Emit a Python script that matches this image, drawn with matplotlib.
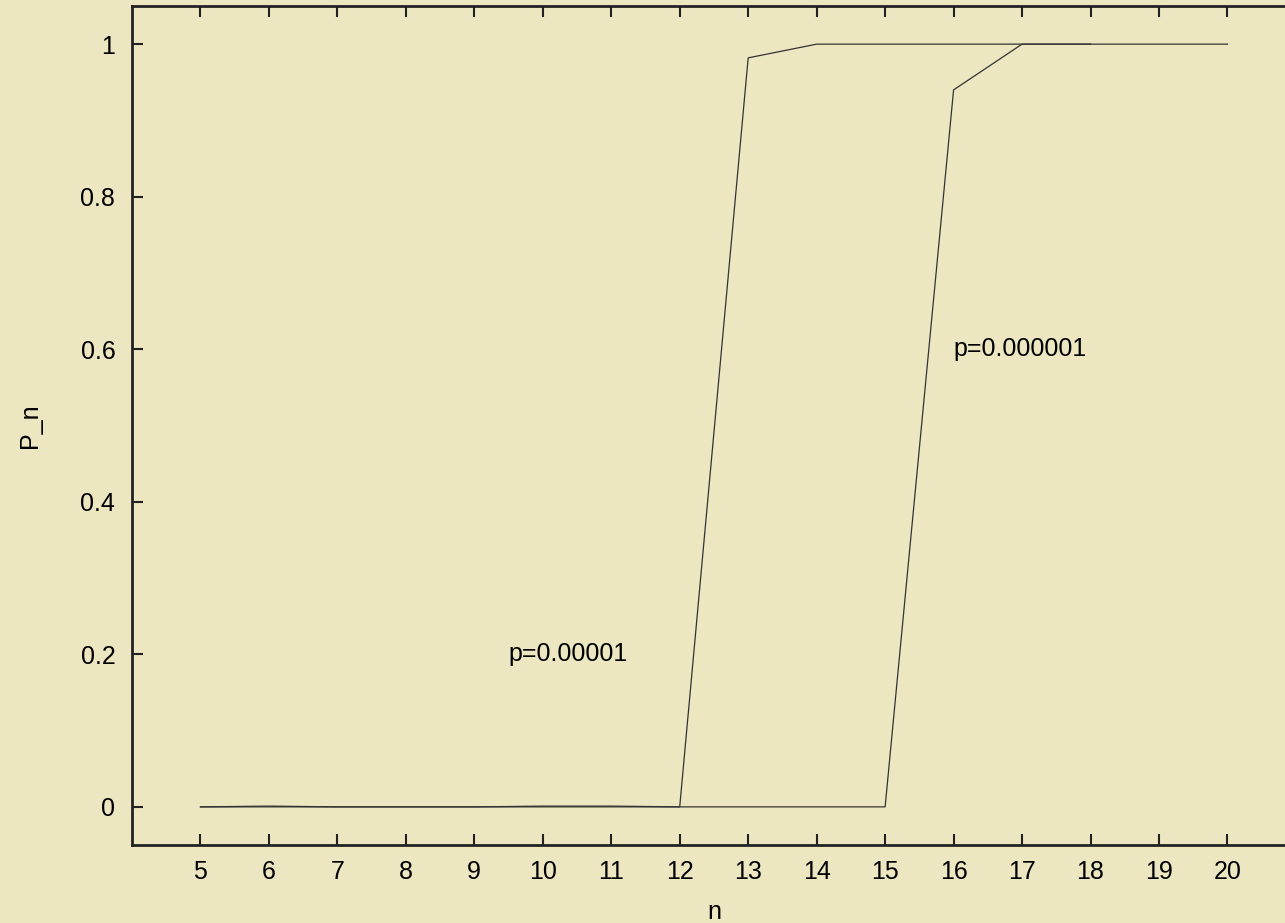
import numpy as np
import matplotlib
matplotlib.use("Agg")
import matplotlib.pyplot as plt

plt.rcParams['font.family'] = ['Liberation Sans', 'DejaVu Sans']

# Données
n1 = [5, 6, 7, 8, 9, 10, 11, 12, 13, 14, 15, 16, 17, 18]
p1 = [0.0, 0.001, 0.0, 0.0, 0.0, 0.001, 0.001, 0.0, 0.982, 1.0, 1.0, 1.0, 1.0, 1.0]
n2 = [5, 6, 7, 8, 9, 10, 11, 12, 13, 14, 15, 16, 17, 18, 19, 20]
p2 = [0.0, 0.0, 0.0, 0.0, 0.0, 0.0, 0.0, 0.0, 0.0, 0.0, 0.0, 0.94, 1.0, 1.0, 1.0, 1.0]

xticks = list(range(5, 21))
yticks = [0, 0.2, 0.4, 0.6, 0.8, 1]
ytick_labels = ["0", "0.2", "0.4", "0.6", "0.8", "1"]

bg = "#ECE6C1"
fs = 18
fig = plt.figure(figsize=(12.85, 9.23), dpi=100, facecolor=bg)
ax = fig.add_axes([0.1027, 0.0845, 0.9058, 0.909])
ax.set_facecolor(bg)

ax.plot(n1, p1, color="#333333", lw=0.9)
ax.plot(n2, p2, color="#333333", lw=0.9)

ax.text(9.5, 0.2, "p=0.00001", fontsize=fs, va="center", ha="left")
ax.text(16, 0.6, "p=0.000001", fontsize=fs, va="center", ha="left")

ax.set_xlim(4, 21)
ax.set_ylim(-0.05, 1.05)
ax.set_xticks(xticks)
ax.set_yticks(yticks)
ax.set_yticklabels(ytick_labels)
ax.tick_params(direction="in", length=8, width=1.5, top=True, right=True,
               labelsize=fs, color="#222222")
ax.tick_params(axis="x", pad=11)
ax.tick_params(axis="y", pad=12)
for s in ax.spines.values():
    s.set_linewidth(2)
    s.set_color("#222222")

ax.set_xlabel("n", fontsize=fs, labelpad=11)
ax.set_ylabel("P_n", fontsize=fs, labelpad=28)

plt.savefig("out.png", dpi=100, facecolor=bg)
